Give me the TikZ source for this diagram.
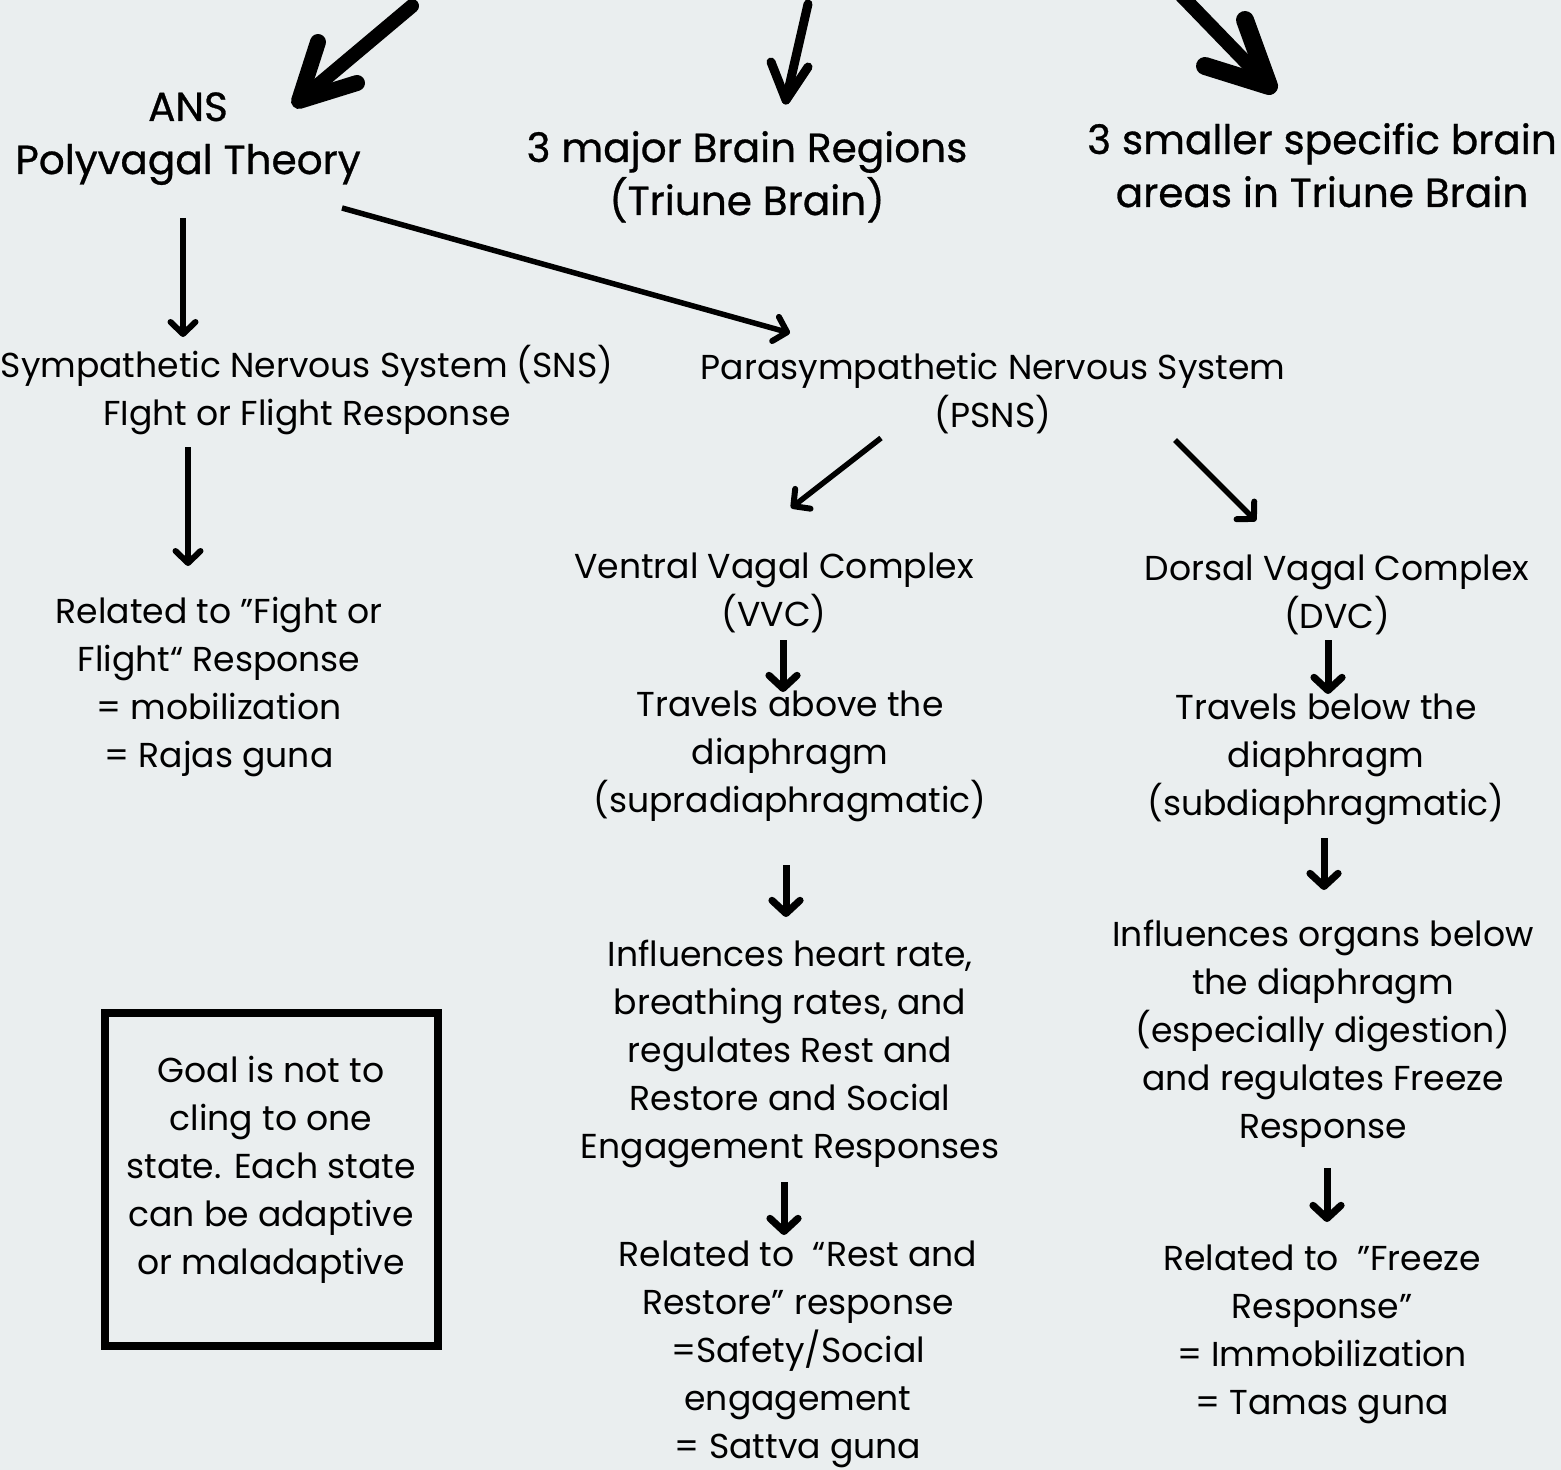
\documentclass[tikz,border=0pt]{standalone}
\usepackage{fontspec}
\setmainfont{Poppins}
\newfontfamily\medfont[FakeBold=0.7]{Poppins}
\usetikzlibrary{arrows.meta,calc}
\definecolor{bg}{RGB}{234,238,239}
\begin{document}
\begin{tikzpicture}[x=0.5pt,y=-0.5pt,
  body/.style={font=\fontsize{17.3}{24}\selectfont, align=center, inner sep=0pt, anchor=base},
  head/.style={font=\medfont\fontsize{20.3}{26.5}\selectfont, align=center, inner sep=0pt, anchor=base},
  arr/.style={line width=2.75pt, -{Straight Barb[length=6pt,width=12.5pt,line width=3pt,round]}},
  arrb/.style={line width=3.5pt, -{Straight Barb[length=6.5pt,width=14pt,line width=3.6pt,round]}},
  brush/.style={line width=7pt, line cap=round, line join=round},
  brushthin/.style={line width=4.5pt, line cap=round, line join=round},
  goalbox/.style={draw, line width=4pt, minimum width=166.5pt, minimum height=166.5pt, inner sep=0pt}
]
\useasboundingbox (0,0) rectangle (1561,1470);
\fill[bg] (0,0) rectangle (1561,1470);
\clip (0,0) rectangle (1561,1470);

% headings (base = baseline of last line)
\node[head] (ans) at (188,174) {ANS\\Polyvagal Theory};
\node[head] (brain) at (747,215) {3 major Brain Regions\\(Triune Brain)};
\node[head] (areas) at (1322,207) {3 smaller specific brain\\areas in Triune Brain};

% body nodes
\node[body] (sns) at (307,425) {Sympathetic Nervous System (SNS)\\FIght or Flight Response};
\node[body] (psns) at (993,428) {Parasympathetic Nervous System\\(PSNS)};
\node[body] (vvc) at (774,626) {Ventral Vagal Complex\\(VVC)};
\node[body] (dvc) at (1337,628) {Dorsal Vagal Complex\\(DVC)};
\node[body] (rel1) at (219,767) {Related to ”Fight or\\Flight“ Response\\= mobilization\\= Rajas guna};
\node[body] (vvc2) at (790,812) {Travels above the\\diaphragm\\(supradiaphragmatic)};
\node[body] (dvc2) at (1326,815) {Travels below the\\diaphragm\\(subdiaphragmatic)};
\node[body] (vvc3) at (790,1158) {Influences heart rate,\\breathing rates, and\\regulates Rest and\\Restore and Social\\Engagement Responses};
\node[body] (dvc3) at (1323,1138) {Influences organs below\\the diaphragm\\(especially digestion)\\and regulates Freeze\\Response};
\node[body] (vvc4) at (798,1458) {Related to \ “Rest and\\Restore” response\\=Safety/Social\\engagement\\= Sattva guna};
\node[body] (dvc4) at (1322,1414) {Related to \ ”Freeze\\Response”\\= Immobilization\\= Tamas guna};

% goal box
\node[goalbox] (box) at (271.5,1179.5) {};
\node[body] (goal) at (271,1274) {Goal is not to\\cling to one\\state. Each state\\can be adaptive\\or maladaptive};

% brush arrows from above
\coordinate (t1) at (412,6);
\coordinate (t2) at (808,4);
\coordinate (t3) at (1178,-8);
\coordinate (h1) at (299,101);
\coordinate (h2) at (786,100);
\coordinate (h3) at (1269,86);
\draw[brush] (t1) -- (h1);
\draw[brush, line width=8pt] (318,42) -- (h1) -- (357,83);
\draw[brushthin] (t2) -- (h2);
\draw[brushthin] (771,62) -- (h2) -- (808,67);
\draw[brush] (t3) -- (h3);
\draw[brush, line width=9pt] (1245,20) -- (h3) -- (1205,66);

% connectors
\draw[arr] ($(ans.base)+(-5,44)$) -- ($(sns.base)+(-124,-88)$);
\draw[arr] ($(ans.base)+(154,34)$) -- ($(psns.base)+(-203,-95)$);
\draw[arr] ($(sns.base)+(-119,22)$) -- ($(rel1.base)+(-31,-201)$);
\draw[arr] ($(psns.base)+(-112,10)$) -- ($(vvc.base)+(17,-118)$);
\draw[arr] ($(psns.base)+(182,12)$) -- ($(dvc.base)+(-81,-107)$);
\draw[arrb] ($(vvc.base)+(9,14)$) -- ($(vvc2.base)+(-7,-120)$);
\draw[arrb] ($(dvc.base)+(-9,12)$) -- ($(dvc2.base)+(2,-121)$);
\draw[arrb] ($(vvc2.base)+(-4,53)$) -- ($(vvc3.base)+(-4,-241)$);
\draw[arrb] ($(dvc2.base)+(-2,23)$) -- ($(dvc3.base)+(1,-248)$);
\draw[arrb] ($(vvc3.base)+(-6,24)$) -- ($(vvc4.base)+(-14,-223)$);
\draw[arrb] ($(dvc3.base)+(4,30)$) -- ($(dvc4.base)+(5,-192)$);
\end{tikzpicture}
\end{document}
